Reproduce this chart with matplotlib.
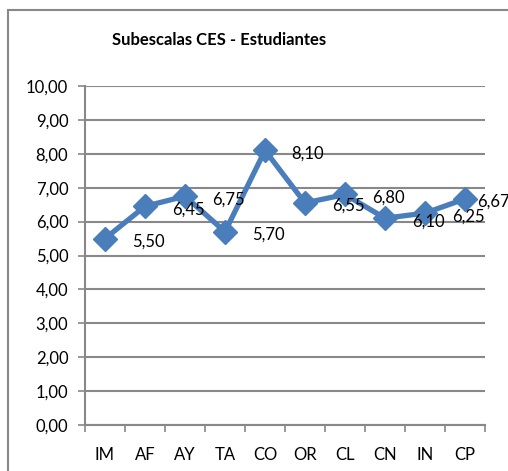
import matplotlib
matplotlib.use("Agg")
import matplotlib.pyplot as plt
from matplotlib.patches import Rectangle

categories = ["IM", "AF", "AY", "TA", "CO", "OR", "CL", "CN", "IN", "CP"]
values = [5.50, 6.45, 6.75, 5.70, 8.10, 6.55, 6.80, 6.10, 6.25, 6.67]
yticks = [0, 1, 2, 3, 4, 5, 6, 7, 8, 9, 10]
title = "Subescalas CES - Estudiantes"

plt.rcParams['font.family'] = ['Lato', 'DejaVu Sans']

W, H = 508, 471
fig = plt.figure(figsize=(W / 100, H / 100), dpi=100)
fig.patches.append(Rectangle((8 / W, -0.1), 1.2, 1 - 10 / H + 0.1, transform=fig.transFigure,
                             fill=False, edgecolor='#888888', linewidth=1.5))

ax = fig.add_axes([85 / W, 1 - 425 / H, 400 / W, (425 - 86) / H])
x = list(range(len(categories)))
color = '#4A7EBB'
ax.plot(x, values, color=color, linewidth=3.8, marker='D', markersize=12.5,
        markerfacecolor=color, markeredgecolor=color, zorder=3, clip_on=False)

for xi, v in zip(x, values):
    last = xi == len(x) - 1
    off = (12, -3) if last else (43, -3)
    ax.annotate(f"{v:.2f}".replace('.', ','), (xi, v), xytext=off, textcoords='offset pixels',
                ha='left' if last else 'center', va='center', fontsize=12, color='black',
                zorder=4, annotation_clip=False)

ax.set_xlim(-0.5, len(categories) - 0.5)
ax.set_ylim(0, 10)
ax.set_yticks(yticks)
ax.set_yticklabels([f"{t:.2f}".replace('.', ',') for t in yticks], fontsize=12)
ax.set_xticks(x)
ax.set_xticklabels(categories, fontsize=12)
ax.set_xticks([i - 0.5 for i in range(len(categories) + 1)], minor=True)
ax.tick_params(axis='x', which='major', length=0, pad=16)
ax.tick_params(axis='x', which='minor', length=5, width=1.2, color='#888888', direction='out')
ax.tick_params(axis='y', length=5, width=1.2, color='#888888', pad=7)
ax.grid(axis='y', color='#888888', linewidth=1.5)
ax.set_axisbelow(True)
for s in ['top', 'right']:
    ax.spines[s].set_visible(False)
for s in ['left', 'bottom']:
    ax.spines[s].set_color('#888888')
    ax.spines[s].set_linewidth(1.5)

fig.text(219 / W, 1 - 40 / H, title, ha='center', va='center', fontsize=12, fontweight='bold')

fig.savefig("out.png", dpi=100)
